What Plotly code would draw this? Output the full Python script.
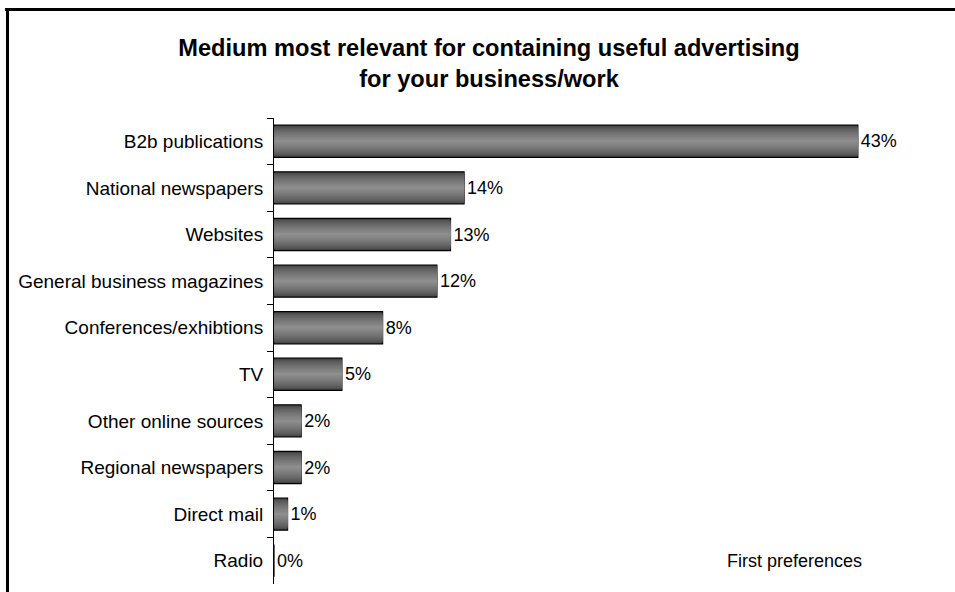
import plotly.graph_objects as go

categories = ["B2b publications", "National newspapers", "Websites", "General business magazines",
              "Conferences/exhibtions", "TV", "Other online sources", "Regional newspapers",
              "Direct mail", "Radio"]
values = [43, 14, 13, 12, 8, 5, 2, 2, 1, 0]
labels = [f"{v}%" for v in values]
title_text = "Medium most relevant for containing useful advertising<br>for your business/work"
note_text = "First preferences"

W, H = 955, 592
ML, MR, MT, MB = 274, 70, 118, 8
PW, PH = W - ML - MR, H - MT - MB

def px(x):
    return (x - ML) / PW

def py(y):
    return (H - MB - y) / PH

FONT = "Liberation Sans, Arial, sans-serif"

fig = go.Figure()

# layered bars to imitate cylinder-like gradient shading
n = 16
outer = 0.69
for i in range(n):
    t = i / (n - 1)
    w = outer * (1 - 0.95 * t)
    g = int(0x3c + (0x8e - 0x3c) * (t ** 0.6))
    col = f"rgb({g},{g},{g})"
    first = i == 0
    fig.add_trace(go.Bar(
        y=categories, x=values, orientation="h", width=w,
        marker=dict(color=col, line=dict(color="black", width=1.2 if first else 0)),
        text=labels if first else None,
        textposition="outside" if first else "none",
        textfont=dict(family=FONT, size=18, color="black"),
        cliponaxis=False, hoverinfo="skip", showlegend=False,
    ))

fig.add_annotation(x=px(725), y="Radio", xref="paper", yref="y", text=note_text,
                   showarrow=False, xanchor="left", font=dict(family=FONT, size=18, color="black"))

fig.update_layout(
    width=W, height=H, barmode="overlay",
    margin=dict(l=ML, r=MR, t=MT, b=MB, autoexpand=False),
    paper_bgcolor="white", plot_bgcolor="white",
    title=dict(text=title_text, x=489 / W, xanchor="center", y=1 - 56 / H, yanchor="top",
               font=dict(family=FONT, size=23.6, color="black", weight="bold")),
    xaxis=dict(range=[0, 45], visible=False),
    yaxis=dict(categoryorder="array", categoryarray=categories, autorange="reversed",
               showline=True, linecolor="black", linewidth=1, ticks="outside",
               tickson="boundaries", ticklen=6, tickcolor="black", showgrid=False,
               tickfont=dict(family=FONT, size=19, color="black"), ticklabelstandoff=6),
    shapes=[
        dict(type="line", xref="paper", yref="paper", x0=px(5), x1=px(960), y0=py(9.5), y1=py(9.5),
             line=dict(color="black", width=3)),
        dict(type="line", xref="paper", yref="paper", x0=px(7.5), x1=px(7.5), y0=py(8), y1=py(600),
             line=dict(color="black", width=3)),
    ],
)

fig.write_html("out.html", config={"displayModeBar": False},
               post_script="document.body.style.margin='0';document.body.style.overflow='hidden';")
